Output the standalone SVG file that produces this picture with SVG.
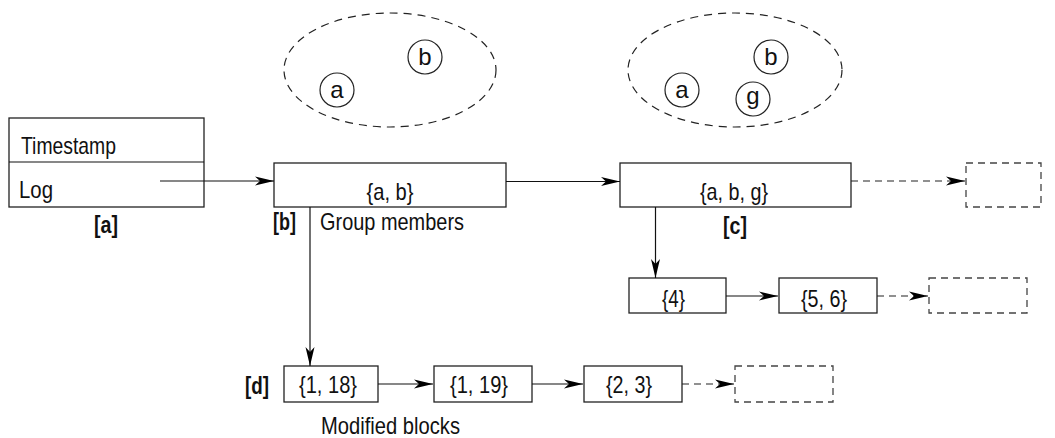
<svg xmlns="http://www.w3.org/2000/svg" width="1055" height="438" viewBox="0 0 1055 438">
<style>
text{font-family:"Liberation Sans",Arial,sans-serif;font-size:24px;fill:#111}
.b{font-weight:bold}
.m{text-anchor:middle}
.box{fill:#fff;stroke:#222;stroke-width:1.3}
.dbox{fill:none;stroke:#444;stroke-width:1.3;stroke-dasharray:7 5}
.ell{fill:none;stroke:#222;stroke-width:1.2;stroke-dasharray:8 6}
.cir{fill:none;stroke:#222;stroke-width:1.2}
.ln{fill:none;stroke:#111;stroke-width:1.2}
.dl{fill:none;stroke:#222;stroke-width:1.2;stroke-dasharray:7 5}
</style>
<defs>
<marker id="ah" markerUnits="userSpaceOnUse" markerWidth="22" markerHeight="12" viewBox="-21 -6 22 12" refX="0" refY="0" orient="auto">
<path d="M0,0 L-19,-4.5 L-14,0 L-19,4.5 Z" fill="#000"/>
</marker>
</defs>

<g id="sets">
<ellipse class="ell" cx="390" cy="70" rx="106" ry="57"/>
<circle class="cir" cx="337" cy="90" r="17"/>
<text class="m" x="337" y="98">a</text>
<circle class="cir" cx="425" cy="57" r="17"/>
<text class="m" x="425" y="65">b</text>
<ellipse class="ell" cx="735" cy="70" rx="107" ry="57"/>
<circle class="cir" cx="682" cy="90" r="17"/>
<text class="m" x="682" y="98">a</text>
<circle class="cir" cx="771" cy="57" r="17"/>
<text class="m" x="771" y="65">b</text>
<circle class="cir" cx="753" cy="99" r="17"/>
<text class="m" x="753" y="104">g</text>
</g>

<g id="node-a">
<rect class="box" x="9" y="118" width="195" height="89"/>
<line class="ln" x1="9" y1="162" x2="204" y2="162"/>
<text x="21" y="154" textLength="95" lengthAdjust="spacingAndGlyphs">Timestamp</text>
<text x="19" y="198" textLength="34" lengthAdjust="spacingAndGlyphs">Log</text>
<text class="b m" x="106" y="233" textLength="24" lengthAdjust="spacingAndGlyphs">[a]</text>
</g>

<g id="node-b">
<rect class="box" x="274" y="163" width="232" height="44"/>
<text class="m" x="390" y="200" textLength="47" lengthAdjust="spacingAndGlyphs">{a, b}</text>
<text class="b" x="273" y="230" textLength="23" lengthAdjust="spacingAndGlyphs">[b]</text>
<text x="320" y="230" textLength="144" lengthAdjust="spacingAndGlyphs">Group members</text>
</g>

<g id="node-c">
<rect class="box" x="620" y="163" width="231" height="44"/>
<text class="m" x="734" y="200" textLength="68" lengthAdjust="spacingAndGlyphs">{a, b, g}</text>
<text class="b m" x="735" y="234" textLength="24" lengthAdjust="spacingAndGlyphs">[c]</text>
</g>

<g id="node-next-top">
<rect class="dbox" x="966" y="163" width="75" height="44"/>
</g>

<g id="node-4">
<rect class="box" x="629" y="278" width="97" height="35"/>
<text class="m" x="673.5" y="307" textLength="23" lengthAdjust="spacingAndGlyphs">{4}</text>
</g>
<g id="node-56">
<rect class="box" x="779" y="278" width="98" height="35"/>
<text class="m" x="824" y="307" textLength="46" lengthAdjust="spacingAndGlyphs">{5, 6}</text>
</g>
<g id="node-next-mid">
<rect class="dbox" x="929" y="278" width="98" height="35"/>
</g>

<g id="node-d">
<text class="b" x="245" y="394" textLength="24" lengthAdjust="spacingAndGlyphs">[d]</text>
<rect class="box" x="284" y="366" width="94" height="36"/>
<text class="m" x="328" y="393" textLength="58" lengthAdjust="spacingAndGlyphs">{1, 18}</text>
<text x="321" y="434" textLength="139" lengthAdjust="spacingAndGlyphs">Modified blocks</text>
</g>
<g id="node-119">
<rect class="box" x="434" y="366" width="98" height="36"/>
<text class="m" x="479" y="393" textLength="58" lengthAdjust="spacingAndGlyphs">{1, 19}</text>
</g>
<g id="node-23">
<rect class="box" x="584" y="366" width="98" height="36"/>
<text class="m" x="629" y="393" textLength="46" lengthAdjust="spacingAndGlyphs">{2, 3}</text>
</g>
<g id="node-next-bottom">
<rect class="dbox" x="735" y="366" width="98" height="36"/>
</g>

<g id="connectors">
<line class="ln" x1="160" y1="181" x2="274" y2="181" marker-end="url(#ah)"/>
<line class="ln" x1="506" y1="181.5" x2="620" y2="181.5" marker-end="url(#ah)"/>
<line class="dl" x1="851" y1="181" x2="965" y2="181" marker-end="url(#ah)"/>
<line class="ln" x1="655.5" y1="207" x2="655.5" y2="278" marker-end="url(#ah)"/>
<line class="ln" x1="726" y1="296" x2="778" y2="296" marker-end="url(#ah)"/>
<line class="dl" x1="877" y1="296" x2="928" y2="296" marker-end="url(#ah)"/>
<line class="ln" x1="310" y1="207" x2="310" y2="366" marker-end="url(#ah)"/>
<line class="ln" x1="378" y1="384" x2="433" y2="384" marker-end="url(#ah)"/>
<line class="ln" x1="532" y1="384" x2="583" y2="384" marker-end="url(#ah)"/>
<line class="dl" x1="682" y1="384" x2="734" y2="384" marker-end="url(#ah)"/>
</g>
</svg>
